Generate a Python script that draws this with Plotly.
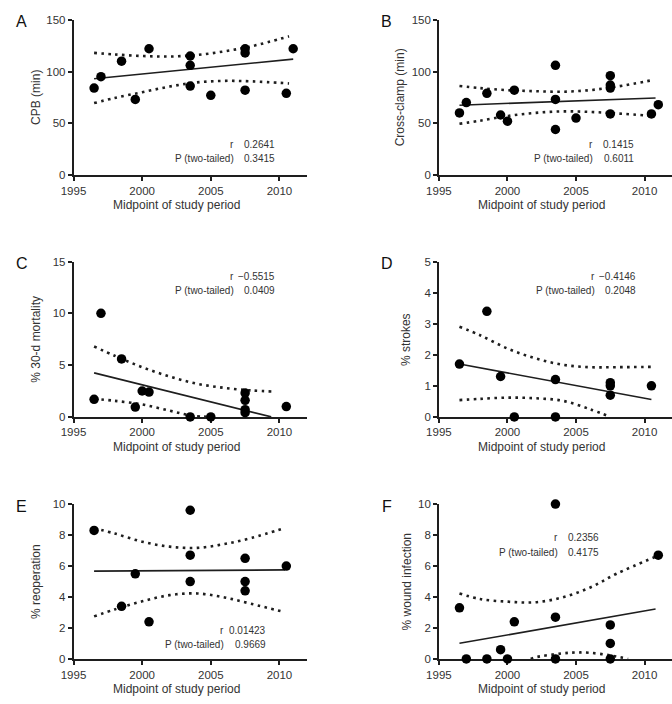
import plotly.graph_objects as go

INK = "#1e1e1e"
TXT = "#333333"
FONT = "Liberation Sans, Arial, sans-serif"

# ---- A: CPB (min)
cpb_year = [1996.5, 1997, 1998.5, 1999.5, 2000.5, 2003.5, 2003.5, 2003.5, 2005, 2007.5, 2007.5, 2007.5, 2010.5, 2011]
cpb_min = [84, 95, 110, 73, 122, 115, 106, 86, 77, 122, 118, 82, 79, 122]
cpb_fit_x = [1996.5, 2011]
cpb_fit_y = [93, 112]
cpb_band_x = [1996.5, 1998, 2000, 2002, 2004, 2006, 2008, 2010.7]
cpb_upper = [118, 116.5, 115, 114.5, 116, 119.5, 124.5, 134]
cpb_lower = [69.5, 74.5, 80, 85.5, 89.5, 91, 90.5, 88.5]

# ---- B: Cross-clamp (min)
xc_year = [1996.5, 1997, 1998.5, 1999.5, 2000, 2000.5, 2003.5, 2003.5, 2003.5, 2005, 2007.5, 2007.5, 2007.5, 2007.5, 2010.5, 2011]
xc_min = [60, 70, 79, 58, 52, 82, 106, 73, 44, 55, 96, 87, 84, 59, 59, 68]
xc_fit_x = [1996.5, 2010.8]
xc_fit_y = [67.5, 74.5]
xc_band_x = [1996.5, 1998, 2000, 2002, 2004, 2006, 2008, 2010.7]
xc_upper = [86, 84, 82, 81, 80.5, 82, 85.5, 92]
xc_lower = [49.5, 52.5, 57, 60, 61.5, 61, 59.5, 57]

# ---- C: % 30-d mortality
mort_year = [1996.5, 1997, 1998.5, 1999.5, 2000, 2000.5, 2003.5, 2005, 2007.5, 2007.5, 2007.5, 2007.5, 2010.5]
mort_pct = [1.7, 10, 5.6, 0.95, 2.5, 2.4, 0, 0, 2.3, 1.6, 0.7, 0.4, 1.0]
mort_fit_x = [1996.5, 2009.4]
mort_fit_y = [4.25, 0]
mort_up_x = [1996.5, 1998, 2000, 2002, 2004, 2006, 2008, 2009.5]
mort_upper = [6.8, 5.9, 4.8, 3.9, 3.2, 2.8, 2.55, 2.45]
mort_lo_x = [1996.5, 1998, 2000, 2002, 2003.6, 2005.1]
mort_lower = [1.75, 1.55, 1.2, 0.6, 0.12, 0]

# ---- D: % strokes
str_year = [1996.5, 1998.5, 1999.5, 2000.5, 2003.5, 2003.5, 2007.5, 2007.5, 2007.5, 2010.5]
str_pct = [1.7, 3.4, 1.3, 0, 1.2, 0, 1.1, 1.0, 0.7, 1.0]
str_fit_x = [1996.5, 2010.5]
str_fit_y = [1.7, 0.56]
str_up_x = [1996.5, 1998, 2000, 2002, 2004, 2006, 2008, 2010.5]
str_upper = [2.9, 2.63, 2.2, 1.89, 1.68, 1.6, 1.6, 1.61]
str_lo_x = [1996.5, 1998, 2000, 2002, 2004, 2006, 2007.5]
str_lower = [0.54, 0.58, 0.62, 0.6, 0.52, 0.25, 0]

# ---- E: % reoperation
reop_year = [1996.5, 1998.5, 1999.5, 2000.5, 2003.5, 2003.5, 2003.5, 2007.5, 2007.5, 2007.5, 2010.5]
reop_pct = [8.3, 3.4, 5.5, 2.4, 9.6, 6.7, 5.0, 6.5, 5.0, 4.4, 6.0]
reop_fit_x = [1996.5, 2010.4]
reop_fit_y = [5.67, 5.75]
reop_band_x = [1996.5, 1998, 2000, 2002, 2004, 2006, 2008, 2010.4]
reop_upper = [8.44, 8.1, 7.57, 7.25, 7.17, 7.42, 7.82, 8.46]
reop_lower = [2.75, 3.2, 3.72, 4.12, 4.23, 3.97, 3.55, 3.02]

# ---- F: % wound infection
wi_year = [1996.5, 1997, 1998.5, 1999.5, 2000, 2000.5, 2003.5, 2003.5, 2003.5, 2007.5, 2007.5, 2007.5, 2011]
wi_pct = [3.3, 0, 0, 0.6, 0, 2.4, 10, 2.7, 0, 2.2, 1.0, 0, 6.7]
wi_fit_x = [1996.5, 2010.8]
wi_fit_y = [1.01, 3.23]
wi_up_x = [1996.5, 1998, 2000, 2002, 2004, 2006, 2008, 2010.8]
wi_upper = [4.23, 3.87, 3.7, 3.66, 3.97, 4.6, 5.52, 6.6]
wi_lo_x = [2001.7, 2002, 2004, 2005, 2006, 2007.5, 2008.8]
wi_lower = [0, 0.1, 0.36, 0.42, 0.4, 0.23, 0]

panels = [
    dict(letter="A", title="CPB (min)", x=cpb_year, y=cpb_min, fx=cpb_fit_x, fy=cpb_fit_y,
         ux=cpb_band_x, uy=cpb_upper, lx=cpb_band_x, ly=cpb_lower,
         ymax=150, dtick=50, r="0.2641", p="0.3415", sx=(2006.8, 2009.8), sy=(30, 16), tshift=-37),
    dict(letter="B", title="Cross-clamp (min)", x=xc_year, y=xc_min, fx=xc_fit_x, fy=xc_fit_y,
         ux=xc_band_x, uy=xc_upper, lx=xc_band_x, ly=xc_lower,
         ymax=150, dtick=50, r="0.1415", p="0.6011", sx=(2006.4, 2009.4), sy=(30, 16), tshift=-38),
    dict(letter="C", title="% 30-d mortality", x=mort_year, y=mort_pct, fx=mort_fit_x, fy=mort_fit_y,
         ux=mort_up_x, uy=mort_upper, lx=mort_lo_x, ly=mort_lower,
         ymax=15, dtick=5, r="\u22120.5515", p="0.0409", sx=(2006.8, 2009.8), sy=(13.6, 12.2), tshift=-37),
    dict(letter="D", title="% strokes", x=str_year, y=str_pct, fx=str_fit_x, fy=str_fit_y,
         ux=str_up_x, uy=str_upper, lx=str_lo_x, ly=str_lower,
         ymax=5, dtick=1, r="\u22120.4146", p="0.2048", sx=(2006.5, 2009.5), sy=(4.53, 4.07), tshift=-33),
    dict(letter="E", title="% reoperation", x=reop_year, y=reop_pct, fx=reop_fit_x, fy=reop_fit_y,
         ux=reop_band_x, uy=reop_upper, lx=reop_band_x, ly=reop_lower,
         ymax=10, dtick=2, r="0.01423", p="0.9669", sx=(2006.1, 2009.2), sy=(1.86, 0.91), tshift=-38),
    dict(letter="F", title="% wound infection", x=wi_year, y=wi_pct, fx=wi_fit_x, fy=wi_fit_y,
         ux=wi_up_x, uy=wi_upper, lx=wi_lo_x, ly=wi_lower,
         ymax=10, dtick=2, r="0.2356", p="0.4175", sx=(2003.8, 2006.8), sy=(7.84, 6.89), tshift=-32),
]

W, H = 672, 704
left_x = [61.7 / W, 299.7 / W]
right_x = [434.3 / W, 1.0]
rows_px = [(14, 172), (260, 418), (506.7, 664.3)]

fig = go.Figure()
layout = dict(width=W, height=H, margin=dict(l=0, r=0, t=0, b=0),
              paper_bgcolor="white", plot_bgcolor="white", showlegend=False,
              font=dict(family=FONT, color=TXT, size=11))
annotations = []

for i, p in enumerate(panels):
    n = i + 1
    sfx = "" if n == 1 else str(n)
    xa, ya = "x" + sfx, "y" + sfx
    col = i % 2
    row = i // 2
    top, bot = rows_px[row]
    xdom = left_x if col == 0 else right_x
    ydom = [1 - bot / H, 1 - top / H]

    layout["xaxis" + sfx] = dict(
        domain=xdom, range=[1995, 2012], anchor=ya, tickmode="linear", tick0=1995, dtick=5,
        showline=True, linecolor=INK, linewidth=1.5, ticks="outside", ticklen=4, tickwidth=1.5,
        tickcolor=INK, showgrid=False, zeroline=False, layer="below traces",
        tickfont=dict(size=11.5, color=TXT, family=FONT), fixedrange=True)
    layout["yaxis" + sfx] = dict(
        domain=ydom, range=[0, p["ymax"]], anchor=xa, tickmode="linear", tick0=0, dtick=p["dtick"],
        showline=True, linecolor=INK, linewidth=1.5, ticks="outside", ticklen=4, tickwidth=1.5,
        tickcolor=INK, showgrid=False, zeroline=False, layer="below traces",
        tickfont=dict(size=11.5, color=TXT, family=FONT), fixedrange=True)

    dot = dict(color=INK, width=2.6, dash="2.6px,4.4px", shape="spline")
    fig.add_trace(go.Scatter(x=p["ux"], y=p["uy"], mode="lines", line=dot, xaxis=xa, yaxis=ya, hoverinfo="skip"))
    fig.add_trace(go.Scatter(x=p["lx"], y=p["ly"], mode="lines", line=dot, xaxis=xa, yaxis=ya, hoverinfo="skip"))
    fig.add_trace(go.Scatter(x=p["fx"], y=p["fy"], mode="lines", line=dict(color=INK, width=1.6),
                             xaxis=xa, yaxis=ya, hoverinfo="skip"))
    fig.add_trace(go.Scatter(x=p["x"], y=p["y"], mode="markers", cliponaxis=False,
                             marker=dict(color="black", size=9.5, line=dict(width=0)),
                             xaxis=xa, yaxis=ya))

    # stats block
    lx, vx = p["sx"]
    ry, py = p["sy"]
    for txt, xx, yy, anc in [("r", lx, ry, "right"), (p["r"], vx, ry, "right"),
                             ("P (two-tailed)", lx, py, "right"), (p["p"], vx, py, "right")]:
        annotations.append(dict(text=txt, x=xx, y=yy, xref=xa, yref=ya, xanchor=anc, yanchor="middle",
                                showarrow=False, font=dict(size=10, color=TXT, family=FONT)))

    # axis titles
    annotations.append(dict(text="Midpoint of study period", x=2002.5, y=0, xref=xa, yref=ya + " domain",
                            xanchor="center", yanchor="middle", yshift=-30, showarrow=False,
                            font=dict(size=12, color=TXT, family=FONT)))
    annotations.append(dict(text=p["title"], x=0, y=0.5, xref=xa + " domain", yref=ya + " domain",
                            xanchor="center", yanchor="middle", xshift=p["tshift"], textangle=-90,
                            showarrow=False, font=dict(size=12, color=TXT, family=FONT)))
    # panel letter
    lpx = 9 if col == 0 else 381
    annotations.append(dict(text=p["letter"], x=lpx / W, y=1 - (top + 2) / H, xref="paper", yref="paper",
                            xanchor="center", yanchor="middle", showarrow=False,
                            font=dict(size=16, color="#111111", family=FONT)))

layout["annotations"] = annotations
fig.update_layout(**layout)
fig.write_html("out.html", config={"displayModeBar": False},
               post_script="document.body.style.margin='0';document.body.style.overflow='hidden';")
